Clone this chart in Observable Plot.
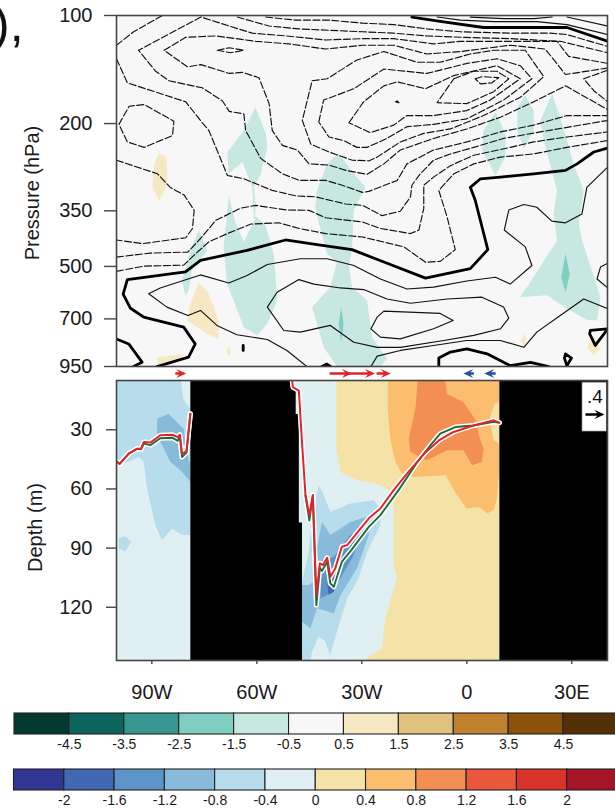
<!DOCTYPE html>
<html>
<head>
<meta charset="utf-8">
<script src="https://cdn.jsdelivr.net/npm/d3@7"></script>
<script src="https://cdn.jsdelivr.net/npm/@observablehq/plot@0.6"></script>
<style>
html,body{margin:0;padding:0;background:#fff;overflow:hidden}
#page{position:relative;width:615px;height:808px;overflow:hidden;font-family:"Liberation Sans",Arial,sans-serif}
#page svg{position:absolute;left:0;background:transparent}
#frag{position:absolute;left:-7px;top:-1px;font-size:50px;line-height:1;color:#111}
</style>
</head>
<body>
<div id="page"><div id="frag">),</div></div>
<script>
// ---------- axes ----------
const lonDomain = [-100.1, 40.2];
const pressureDomain = [100, 950];
const depthDomain = [5, 147];
const pressureTicks = [100, 200, 350, 500, 700, 950];
const depthTicks = [30, 60, 90, 120];
const lonTicks = [-90, -60, -30, 0, 30];
const lonLabels = ["90W", "60W", "30W", "0", "30E"];

// ---------- colour keys ----------
const topLevels = [-4.5,-3.5,-2.5,-1.5,-0.5,0.5,1.5,2.5,3.5,4.5];
const topColors = ["#033a30","#0b655d","#35978f","#80cdc1","#c7e7e1","#f7f7f7","#f6e8c3","#dfc27d","#bf812d","#8c510a","#543005"];
const botLevels = [-2,-1.6,-1.2,-0.8,-0.4,0,0.4,0.8,1.2,1.6,2];
const botColors = ["#313695","#4268b3","#5b95c8","#87bbd9","#b7dcec","#e0f0f2","#f5e2a6","#fbbe6f","#f38f53","#e9583c","#d93229","#a51628"];

// ---------- upper panel: shaded anomaly patches [lon, hPa] ----------
const tealPatches = [
 [[-60.4,180],[-57.4,213],[-57,233],[-58.9,276],[-60.8,301],[-60.3,338],[-60.5,361],[-57.5,384],[-55.1,466],[-54.2,622],[-57,722],[-59.9,778],[-63.7,738],[-68.5,560],[-69.5,441],[-68,317],[-66.1,377],[-63.7,427],[-60.7,372],[-60.9,357],[-61.3,301],[-64.1,256],[-68.1,276],[-68.4,240],[-63.7,209]],
 [[-76.6,396],[-74.2,451],[-78.5,513],[-79.5,583],[-80.4,603],[-81.4,547],[-79.5,471],[-78.5,441]],
 [[-36.6,242],[-32.3,276],[-29,301],[-29.5,307],[-32.3,349],[-32.8,451],[-33.7,497],[-32.8,571],[-28.5,622],[-27.1,787],[-22.8,903],[-24.7,950],[-37.1,950],[-40.9,840],[-44.2,649],[-39,571],[-37.1,486],[-39.9,461],[-41.8,396],[-43.3,342],[-42.8,307],[-39.9,259]],
 [[8.2,186],[11,213],[11,248],[8.2,279],[4.4,237],[4.8,209]],
 [[16.7,167],[19.1,184],[19.1,209],[16.3,235],[14.4,209],[14.4,180]],
 [[24.4,165],[27.2,200],[30.5,259],[33.4,307],[32,381],[32.9,423],[38.2,609],[37.2,707],[34.3,704],[28.6,656],[22.9,602],[15.1,609],[17.2,571],[25.8,423],[24.8,357],[25.8,307],[22,223],[21,196]]
];
const midTealPatches = [
 [[-35.9,649],[-35.2,722],[-35.9,813],[-36.6,722]],
 [[28.2,461],[29.4,525],[28.2,590],[27,536]]
];
const tanPatches = [
 [[-87.9,242],[-85.8,248],[-85.6,294],[-87.9,329],[-89.8,301],[-89.4,259]],
 [[-76.6,553],[-73.7,596],[-70.9,707],[-70.9,796],[-74.2,770],[-79.9,707],[-79,635]],
 [[-88.5,895],[-79.9,876],[-84.2,924],[-88,950]],
 [[-68,830],[-67.4,866],[-68,895],[-68.7,866]],
 [[16.3,767],[17,804],[16.3,840],[15.5,804]],
 [[36.3,778],[38.2,849],[36.3,885],[34.3,840]]
];

// ---------- upper panel: contours [lon, hPa] ----------
const dashedContours = [
 [[-100.1,121],[-95.2,111],[-87,100]],
 [[-57.5,101],[-48.9,103],[-39.4,103],[-29.8,105],[-20.9,106],[-11.4,109],[-1.8,111],[12.4,112],[23.9,112],[28.6,113],[40.3,122]],
 [[-65.6,101],[-56.5,107],[-47.9,109],[-29.8,111],[-20.9,112],[-11.4,114],[-1.8,115],[12.4,116],[26.7,118],[40.3,127]],
 [[40.3,136],[29.1,130],[25.8,118],[12.4,118],[-1.8,118],[-9.5,120],[-20.9,116],[-29.8,116],[-40.3,117],[-51.7,114],[-61.3,112],[-67.9,107],[-76,101],[-93.8,125],[-88.9,143],[-85.1,152],[-75.6,159],[-69.8,173],[-67.9,185],[-63.7,188],[-63.2,209],[-58.9,250],[-52.7,276],[-47.9,288],[-40.3,288],[-35.6,297],[-29.8,311],[-28,309],[-19.9,288],[-17.1,259],[-9.5,237],[0,225],[9.6,211],[19.1,202],[28.6,190],[40.3,190]],
 [[40.3,140],[28.2,146],[22.4,124],[12.4,121],[-1.8,126],[-11.4,128],[-20.9,121],[-29.8,121],[-40.3,124],[-50.8,120],[-60.3,118],[-71.7,114],[-80.3,115],[-86.5,125],[-79.8,139],[-76,137],[-67.9,145],[-64.1,144],[-59.4,149],[-56.5,176],[-55.6,209],[-52.7,230],[-48.4,237],[-45.1,259],[-39.4,261],[-34.6,270],[-28.5,277],[-23.7,259],[-19,237],[-9.5,220],[0,207],[9.6,192],[19.1,174],[28.2,157],[40.3,183]],
 [[-44.2,152],[-39.9,150],[-31.4,133],[-23.7,126],[-14.2,135],[-7.6,135],[1,128],[7.7,125],[16.7,125],[22,148],[15.3,169],[4.8,190],[-4.7,207],[-12.3,213],[-19,225],[-25.6,248],[-27.9,254],[-32.7,253],[-39.4,240],[-44.6,228],[-47,196],[-44.2,152]],
 [[-42.3,198],[-40.9,172],[-32.3,160],[-23.7,141],[-11.4,145],[0,136],[8.6,132],[15.3,138],[18.6,150],[10.5,172],[0,194],[-9.5,201],[-17.1,204],[-22.8,220],[-28.5,233],[-31.4,233],[-35.2,223],[-39.4,218],[-42.3,198]],
 [[-33.7,199],[-29.5,174],[-23.7,157],[-19.9,153],[-11.8,160],[-3.7,147],[8.6,138],[15.3,150],[6.7,172],[0,184],[-9.5,190],[-17.1,190],[-20.9,202],[-27.6,212],[-33.7,199]],
 [[-3.7,150],[1.9,143],[8.6,143],[12,150],[7.7,163],[0,176],[-8.5,175],[-3.7,150]],
 [[2.4,150],[4.4,148],[9.1,149],[7.2,154],[3.9,155],[2.4,150]],
 [[-20.4,174],[-19.9,173],[-19.4,175],[-20.4,174]],
 [[-100.1,253],[-88.4,276],[-84.6,302],[-80.8,316],[-77.9,349],[-78.4,392],[-80.3,416],[-92.7,432],[-100.1,422]],
 [[-100.1,132],[-97,154],[-80.3,174],[-75.6,199],[-73.7,209],[-68.4,279],[-63.7,285],[-55.6,307],[-48.9,318],[-43.2,320],[-34.6,335],[-29.8,338],[-24.2,361],[-19,351],[-16.1,320],[-15.7,297],[-13.3,276],[-9.5,253],[-4.7,243],[2,233],[10.5,220],[21,211],[40.3,196]],
 [[-100.1,471],[-90.4,459],[-79.7,456],[-76.1,418],[-71.7,372],[-64.6,344],[-60.3,338],[-51.7,348],[-45.1,349],[-40.3,366],[-29.8,376],[-24.7,392],[-16.1,405],[-13.7,396],[-12.3,345],[-12.3,297],[-9.5,282],[-4.7,262],[2,245],[12.4,233],[19.1,225],[28.6,218],[40.3,211]],
 [[-100.1,516],[-92.3,499],[-80.9,496],[-77.5,461],[-73.7,427],[-68.4,405],[-61.7,381],[-53.7,378],[-47.9,392],[-40.3,405],[-29.8,414],[-18,441],[-11.8,487],[-7.6,484],[-3.3,449],[-5.6,365],[-8,307],[-3.7,276],[2,259],[9.6,248],[19.1,243],[28.6,233],[40.3,223]],
 [[40.3,142],[33.4,150],[36.3,162],[40.3,174]],
 [[-99.4,201],[-96.5,179],[-92.2,177],[-83.7,197],[-84.1,216],[-92.2,233],[-97,225],[-99.4,201]],
 [[-71.3,125],[-67.9,123],[-63.7,125],[-67.5,127],[-71.3,125]]
];
const thinContours = [
 [[-8.5,101],[-1.8,103],[7.7,104],[20,104],[28.6,106],[40.3,113]],
 [[1,101],[10.5,102],[19.1,102],[24.4,101]],
 [[28.6,101],[40.3,107]],
 [[40.3,264],[34.3,301],[32.9,357],[28.2,378],[24.3,374],[20,342],[16.3,336],[12,348],[10.7,396],[16.7,441],[18.6,497],[12.4,560],[8.2,536],[0,549],[-9.5,571],[-17.1,578],[-24.7,542],[-32.3,497],[-39.9,476],[-47.6,476],[-57,494],[-62.8,530],[-68,556],[-76.1,528],[-87.6,574],[-90.9,596],[-85.7,649],[-79.7,685],[-76.1,663],[-71.4,730],[-65.7,775],[-57,799],[-51.4,857],[-45.7,950]],
 [[-57,649],[-54.2,590],[-48,544],[-43.7,560],[-36.1,574],[-29.5,580],[-22.8,616],[-16.1,633],[-5.6,616],[4.3,609],[10.5,649],[12,697],[9.6,746],[2,778],[-6.6,804],[-19,840],[-25.6,840],[-32.3,813],[-39,730],[-47.6,762],[-52.3,754],[-57,649]],
 [[-23.7,666],[-7.6,676],[-3.9,707],[-9.5,746],[-19,796],[-24.7,787],[-27.4,746],[-25.6,692],[-23.7,666]],
 [[-27.4,950],[-25.6,889],[-19,857],[-9.5,830],[0,804],[9.6,804],[16.3,840],[20,762],[26.7,685],[33.4,616],[40.3,656]],
 [[40.3,490],[38.2,502],[37.2,542],[40.3,574]]
];
const thickContours = [
 [[-15.7,101],[-7.1,104],[4.8,108],[28.6,108],[40.3,118]],
 [[40.3,234],[36.3,240],[31.5,259],[28.2,270],[19.1,276],[9.6,282],[3.9,285],[1,301],[2.4,327],[6,449],[1,507],[-11.8,539],[-23.7,486],[-32.8,449],[-42.8,435],[-51.8,422],[-62.8,451],[-76.1,481],[-80.4,518],[-97,544],[-98.2,597],[-96.1,654],[-92.3,692],[-86.6,715],[-80.9,738],[-77.6,822],[-79.5,895],[-88.5,950]],
 [[-100.1,796],[-96.6,822],[-92.8,924],[-95.2,950]],
 [[-8,950],[-8,900],[-4.7,866],[0,849],[5.8,876],[12.4,945],[18.2,925],[23.4,950]],
 [[35.3,754],[40.3,746],[36.7,830],[35.1,770],[35.3,754]],
 [[28.2,876],[29.9,900],[28.6,945],[27.9,900],[28.2,876]],
 [[-63.9,830],[-63.9,857]],
 [[-41.4,950],[-40,935],[-39,950]]
];

// ---------- strip of wind arrows ----------
const arrowLon = [-83.3,-39.2,-33.7,-25.8,2,8.25];
const arrowU = [0.23,0.47,0.55,0.3,-0.22,-0.24];
const arrowKey = [0.4];

// ---------- lower panel: shading [lon, metres] ----------
const landWest = [[-79,5],[-49.9,5],[-48.9,10],[-48.9,22],[-48,22],[-48,77],[-47.1,77],[-47.1,147],[-79,147]];
const landEast = [[9.3,5],[40.2,5],[40.2,147],[9.3,147]];
const westLight = [[-100.1,5],[-81.6,5],[-81.1,14.3],[-79,19.3],[-79,83.4],[-81.4,83.4],[-84.2,80],[-87.1,86],[-89,78.4],[-91.4,59.8],[-92.3,46.3],[-93.7,43.8],[-98,47.2],[-100.1,48.8]];
const westSpot = [[-99.5,85],[-97.6,84],[-95.9,86.8],[-97.6,91.8],[-99.5,90.2]];
const westMid = [[-88.5,24.4],[-85.2,21.9],[-80.9,29.5],[-80,41.3],[-79,48],[-79,56.4],[-81.8,50.5],[-84.7,46.3],[-88.5,32.8]];
const eastTan = [[-37.3,5],[-37.3,39.6],[-36.1,51.4],[-31.4,55.6],[-25.7,57.3],[-22.3,60.6],[-20.9,68.2],[-20.9,98.6],[-20,105.3],[-23.3,125.6],[-24.2,140.8],[-28.5,145.8],[-28.5,147],[9.3,147],[9.3,5]];
const eastOrange = [[-22.6,5],[9.3,5],[9.3,49.7],[8.6,64.9],[7.7,70.8],[5.8,72.5],[3.4,69.1],[0,69.9],[-2.8,63.2],[-6.1,53],[-15.2,53.9],[-18.5,52.2],[-20.4,46.3],[-21.9,34.5],[-22.6,19.3]];
const eastDeepOrange = [[-14,5],[-6.1,5],[-5.7,11.7],[-0.9,16],[2.9,26.1],[3.4,32.8],[4.8,39.6],[4.3,46.3],[1.5,48],[-0.9,40.4],[-5.7,40.4],[-11.4,45.5],[-16.1,41.3],[-16.6,34.5],[-14.7,19.3]];
const eastTanSpot = [[9.3,16],[7.9,16.8],[6.5,24.4],[7.7,35.4],[9.3,37]];
const eastLight = [[-42.3,58.1],[-41.1,62.3],[-39,71.6],[-33.3,67.4],[-26.6,65.7],[-24.7,69.9],[-24.7,78.4],[-28.5,91.8],[-30.9,105.3],[-34.2,115.5],[-37.1,132.3],[-39,144.1],[-38.5,147],[-40.4,137.4],[-42.3,134.8],[-44.2,142.4],[-44.7,147],[-47.1,147],[-47.1,107],[-45.2,91.8],[-43.7,68.2]];
const eastMid = [[-41.4,76.7],[-39,83.4],[-33.3,76.7],[-28.5,74.1],[-28,83.4],[-31.4,100.3],[-36.1,113.8],[-38,123],[-42.8,120.5],[-44.7,130.6],[-47.1,127.3],[-47.1,108.7],[-45.2,108.7],[-43.7,107],[-43.7,91.8],[-42.8,90.2]];
const eastDark = [[-41.8,115.5],[-41.4,96.9],[-38,94.4],[-33.3,83.4],[-30.4,81.7],[-32.3,93.5],[-36.1,105.3],[-39.9,113.8]];
const eastDarkest = [[-39.9,107],[-36.6,102],[-38,112.1],[-39.5,113.8]];

// ---------- lower panel: mixed-layer lines [lon, metres] ----------
const redWest = [[-100.1,46],[-99.2,47.3],[-96.6,42.1],[-94.2,39.6],[-93.1,39.6],[-92.3,36.2],[-90.4,36.5],[-87.6,32.8],[-84.2,32.5],[-82.6,33.7],[-82,32.5],[-81.4,42.1],[-80.1,40.9],[-79,21.9]];
const greenWest = [[-100.1,46],[-99.2,47.3],[-96.6,42.1],[-94.2,39.6],[-93.1,39.9],[-92.3,37],[-90.4,37.8],[-87.6,34.3],[-84.2,34],[-82.6,35.6],[-82,33],[-81.4,43.8],[-80.1,41.5],[-79,21.9]];
const redEast = [[-49.9,5],[-49.7,8.4],[-48,10.1],[-47.1,36.2],[-46.1,63.2],[-45,73.3],[-44,63.2],[-43,113.8],[-42,97.7],[-41.1,98.6],[-39.9,94.9],[-39,104.5],[-37.6,100.3],[-35.7,89.3],[-34.2,88.5],[-28,74.9],[-24.7,69.9],[-20.9,60.6],[-17.1,52.2],[-11.9,41.6],[-8,35.4],[-3.8,31.1],[1.9,27.8],[7.7,25.2],[9.3,26.4]];
const greenEast = [[-46.1,63.2],[-45,76],[-44,63.2],[-43,119],[-42,100],[-41.4,101.6],[-39.9,97],[-39,107.9],[-38,109.6],[-35.7,96.9],[-33,91],[-28,79.2],[-24.7,73.3],[-19.5,60.6],[-14,46],[-10,37],[-7.6,32],[-3.3,28.6],[1.9,27.8],[7.7,26],[9.3,26.4]];

// ---------- helpers that hand the arrays to the library ----------
const lx = d => d[0], ly = d => d[1];
const INK = "#111", FRAME = "#454545";
const FONT = "'Liberation Sans',Arial,sans-serif";
const page = document.getElementById("page");
const add = (svg, top) => { svg.style.top = top + "px"; page.appendChild(svg); };
const patch = (arr, color) => arr.map(p => Plot.line(p, {x: lx, y: ly, fill: color, stroke: "none", clip: "frame"}));
const arrowShape = {
  draw(c, l) {
    const head = Math.min(l, 10), notch = head * 0.72, half = 4.6, shaft = 1.25;
    c.moveTo(-shaft, 0); c.lineTo(shaft, 0); c.lineTo(shaft, -l + notch);
    c.lineTo(half, -l + head); c.lineTo(0, -l); c.lineTo(-half, -l + head);
    c.lineTo(-shaft, -l + notch); c.closePath();
  }
};

// ---------- upper panel ----------
add(Plot.plot({
  width: 615, height: 380, marginTop: 15, marginBottom: 14, marginLeft: 116, marginRight: 8,
  style: {fontFamily: FONT, fontSize: "20px", background: "transparent", color: "#1a1a1a"},
  x: {domain: lonDomain, axis: null},
  y: {type: "log", domain: pressureDomain, reverse: true, axis: null},
  marks: [
    Plot.frame({fill: "#f7f7f7", stroke: "none"}),
    ...patch(tealPatches, topColors[4]),
    ...patch(midTealPatches, topColors[3]),
    ...patch(tanPatches, topColors[6]),
    ...dashedContours.map(c => Plot.line(c, {x: lx, y: ly, stroke: INK, strokeWidth: 1.15, strokeDasharray: "7,2.5", clip: "frame"})),
    ...thinContours.map(c => Plot.line(c, {x: lx, y: ly, stroke: INK, strokeWidth: 1.15, clip: "frame"})),
    ...thickContours.map(c => Plot.line(c, {x: lx, y: ly, stroke: "#000", strokeWidth: 2.8, clip: "frame"})),
    Plot.axisY({ticks: pressureTicks, tickFormat: d => String(d), tickSize: 12, tickPadding: 12, label: null, stroke: FRAME, strokeWidth: 1.4}),
    Plot.text(["Pressure (hPa)"], {frameAnchor: "left", textAnchor: "middle", rotate: -90, dx: -84, dy: 2, fontSize: 20, text: d => d}),
    Plot.frame({stroke: FRAME, strokeWidth: 1.6})
  ]
}), 0);

// ---------- arrow strip ----------
add(Plot.plot({
  width: 615, height: 14, margin: 0, marginLeft: 116, marginRight: 8,
  style: {background: "transparent"},
  x: {domain: lonDomain, axis: null},
  y: {axis: null},
  length: {type: "linear", domain: [0, 0.4], range: [0, 19]},
  marks: [
    Plot.vector(arrowLon, {x: d => d, frameAnchor: "middle", length: (d, i) => Math.abs(arrowU[i]), rotate: (d, i) => arrowU[i] > 0 ? 90 : -90, anchor: "start", shape: arrowShape, fill: (d, i) => arrowU[i] > 0 ? "#e3232a" : "#2c4fa3", stroke: "none"})
  ],
  color: {type: "identity"}
}), 366);

// ---------- lower panel ----------
const lineSet = (arrR, arrG) => [
  Plot.line(arrG, {x: lx, y: ly, stroke: "#fff", strokeWidth: 5, clip: "frame"}),
  Plot.line(arrR, {x: lx, y: ly, stroke: "#fff", strokeWidth: 5, clip: "frame"}),
  Plot.line(arrG, {x: lx, y: ly, stroke: "#1f6b3a", strokeWidth: 1.9, clip: "frame"}),
  Plot.line(arrR, {x: lx, y: ly, stroke: "#e3232a", strokeWidth: 2, clip: "frame"})
];
add(Plot.plot({
  width: 615, height: 345, marginTop: 10, marginBottom: 55, marginLeft: 116, marginRight: 8,
  style: {fontFamily: FONT, fontSize: "20px", background: "transparent", color: "#1a1a1a"},
  x: {domain: lonDomain, axis: null},
  y: {domain: depthDomain, reverse: true, axis: null},
  length: {type: "linear", domain: [0, 0.4], range: [0, 19]},
  marks: [
    Plot.frame({fill: botColors[5], stroke: "none"}),
    ...patch([westLight, westSpot, eastLight], botColors[4]),
    ...patch([westMid, eastMid], botColors[3]),
    ...patch([eastDark], botColors[2]),
    ...patch([eastDarkest], botColors[1]),
    ...patch([eastTan], botColors[6]),
    ...patch([eastOrange], botColors[7]),
    ...patch([eastTanSpot], botColors[6]),
    ...patch([eastDeepOrange], botColors[8]),
    ...patch([landWest, landEast], "#000"),
    ...lineSet(redWest, greenWest),
    ...lineSet(redEast, greenEast),
    Plot.rect(arrowKey, {x1: () => 33, x2: () => 40.1, y1: () => 6, y2: () => 31, fill: "#fff", stroke: "#333", strokeWidth: 0.8}),
    Plot.text([".4"], {x: () => 36.6, y: () => 13.5, text: d => d, fontSize: 19, fill: "#111"}),
    Plot.vector(arrowKey, {x: () => 33.9, y: () => 22.2, length: d => d, rotate: 90, anchor: "start", shape: arrowShape, fill: "#000", stroke: "none"}),
    Plot.axisY({ticks: depthTicks, tickSize: 10, tickPadding: 14, label: null, stroke: FRAME, strokeWidth: 1.4}),
    Plot.axisX({ticks: lonTicks, tickFormat: d => lonLabels[lonTicks.indexOf(d)], tickSize: 4, tickPadding: 20, label: null, stroke: FRAME, strokeWidth: 1.4}),
    Plot.text(["Depth (m)"], {frameAnchor: "left", textAnchor: "middle", rotate: -90, dx: -81, dy: 7, fontSize: 20, text: d => d}),
    Plot.frame({stroke: FRAME, strokeWidth: 1.6})
  ]
}), 370);

// ---------- colour keys ----------
function colorKey(levels, colors, pad, top) {
  const step = levels[1] - levels[0];
  const edges = [levels[0] - step, ...levels, levels[levels.length - 1] + step];
  const cells = colors.map((c, i) => ({a: edges[i], b: edges[i + 1], c}));
  add(Plot.plot({
    width: 615, height: 50, marginTop: 8, marginBottom: 21, marginLeft: pad[0], marginRight: pad[1],
    style: {fontFamily: FONT, fontSize: "14px", background: "transparent", color: "#1a1a1a"},
    x: {domain: [edges[0], edges[edges.length - 1]], axis: null},
    y: {domain: [0, 1], axis: null},
    color: {type: "identity"},
    marks: [
      Plot.rect(cells, {x1: "a", x2: "b", y1: () => 0, y2: () => 1, fill: "c", stroke: "#222", strokeWidth: 1.1}),
      Plot.axisX({ticks: levels, tickFormat: d => String(d), tickSize: 0, tickPadding: 5, label: null})
    ]
  }), top);
}
colorKey(topLevels, topColors, [14, -3], 705);
colorKey(botLevels, botColors, [13.5, -2], 761);
</script>
</body>
</html>
